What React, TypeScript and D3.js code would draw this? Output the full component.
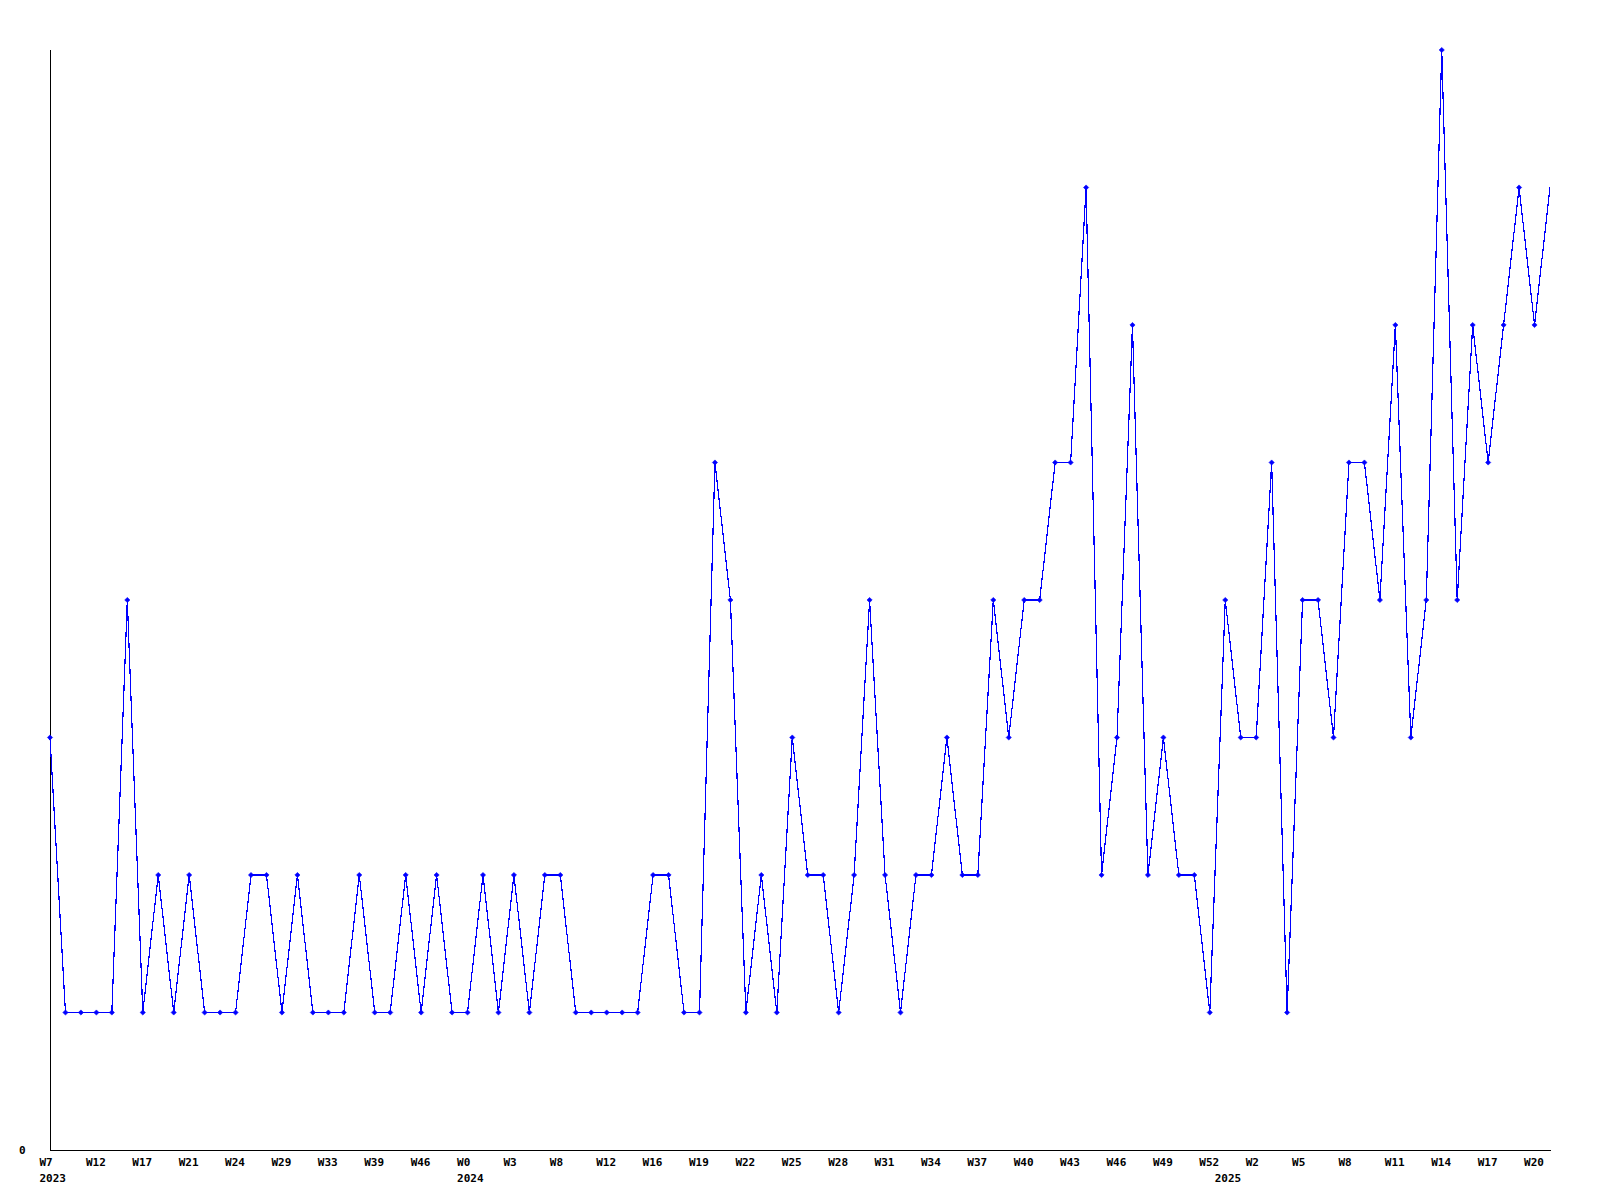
import React from "react";
import * as d3 from "d3";

// Weekly counts, one value per plotted week (98 weeks)
const values: number[] = [
  3, 1, 1, 1, 1, 4, 1, 2, 1, 2,
  1, 1, 1, 2, 2, 1, 2, 1, 1, 1,
  2, 1, 1, 2, 1, 2, 1, 1, 2, 1,
  2, 1, 2, 2, 1, 1, 1, 1, 1, 2,
  2, 1, 1, 5, 4, 1, 2, 1, 3, 2,
  2, 1, 2, 4, 2, 1, 2, 2, 3, 2,
  2, 4, 3, 4, 4, 5, 5, 7, 2, 3,
  6, 2, 3, 2, 2, 1, 4, 3, 3, 5,
  1, 4, 4, 3, 5, 5, 4, 6, 3, 4,
  8, 4, 6, 5, 6, 7, 6, 7,
];

// Week tick labels, shown every third week
const tickLabels: string[] = [
  "W7", "W12", "W17", "W21", "W24", "W29", "W33", "W39", "W46",
  "W0", "W3", "W8", "W12", "W16", "W19", "W22", "W25", "W28", "W31",
  "W34", "W37", "W40", "W43", "W46", "W49", "W52",
  "W2", "W5", "W8", "W11", "W14", "W17", "W20",
];
const tickStep = 3;

// Year labels and the week index where each starts
const yearLabels: string[] = ["2023", "2024", "2025"];
const yearIndex: number[] = [0, 27, 76];

const yTickValues: number[] = [0];
const yMax = 8;

const W = 1600;
const H = 1200;
const left = 50;
const right = 1550;
const top = 50;
const bottom = 1150;

export default function App() {
  const x = d3.scaleLinear().domain([0, values.length - 1]).range([left, right]);
  const y = d3.scaleLinear().domain([0, yMax]).range([bottom, top]);
  const line = d3
    .line<number>()
    .x((_, i) => x(i))
    .y((d) => y(d));
  const diamond = (cx: number, cy: number, r: number) =>
    `M${cx},${cy - r}L${cx + r},${cy}L${cx},${cy + r}L${cx - r},${cy}Z`;

  const font = "'DejaVu Sans Mono', monospace";
  const fs = 11;

  return (
    <svg
      width={W}
      height={H}
      style={{ position: "absolute", left: 0, top: 0, background: "#fff" }}
    >
      <rect x={0} y={0} width={W} height={H} fill="#fff" />
      {/* axes */}
      <line x1={left + 0.5} y1={top} x2={left + 0.5} y2={bottom} stroke="#000" strokeWidth={1} shapeRendering="crispEdges" />
      <line x1={left} y1={bottom + 0.5} x2={right + 1} y2={bottom + 0.5} stroke="#000" strokeWidth={1} shapeRendering="crispEdges" />
      {yTickValues.map((v) => (
        <text
          key={"y" + v}
          x={25.5}
          y={y(v) + 4}
          textAnchor="end"
          fontFamily={font}
          fontWeight="bold"
          fontSize={fs}
          fill="#000"
        >
          {v}
        </text>
      ))}
      {tickLabels.map((t, k) => (
        <text
          key={"t" + k}
          x={x(k * tickStep) - 10.5}
          y={1166}
          fontFamily={font}
          fontWeight="bold"
          fontSize={fs}
          fill="#000"
        >
          {t}
        </text>
      ))}
      {yearLabels.map((t, k) => (
        <text
          key={"yr" + k}
          x={x(yearIndex[k]) - 10.5}
          y={1182}
          fontFamily={font}
          fontWeight="bold"
          fontSize={fs}
          fill="#000"
        >
          {t}
        </text>
      ))}
      {/* series */}
      <path d={line(values) || ""} fill="none" stroke="#0000ff" strokeWidth={1.2} shapeRendering="crispEdges" />
      {values.slice(0, values.length - 1).map((v, i) => (
        <path key={"m" + i} d={diamond(x(i), y(v), 2.6)} fill="#0000ff" stroke="#0000ff" strokeWidth={0.6} />
      ))}
    </svg>
  );
}
